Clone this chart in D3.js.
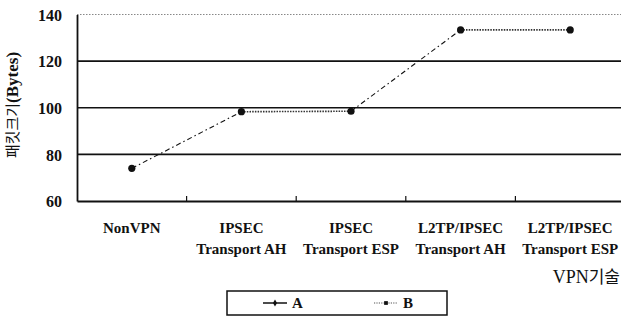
<!DOCTYPE html>
<html>
<head>
<meta charset="utf-8">
<script src="https://cdn.jsdelivr.net/npm/d3@7"></script>
<style>
  body { margin: 0; background: #fff; }
  svg { display: block; }
  .serif { font-family: 'Liberation Serif', Tinos, 'DejaVu Serif', serif; }
  .kr { font-family: 'Noto Sans CJK KR', sans-serif; }
</style>
</head>
<body>
<div id="chart"></div>
<script>
const categories = ['NonVPN', 'IPSEC AH', 'IPSEC ESP', 'L2TP AH', 'L2TP ESP'];
const labelLine1 = ['NonVPN', 'IPSEC', 'IPSEC', 'L2TP/IPSEC', 'L2TP/IPSEC'];
const labelLine2 = ['', 'Transport AH', 'Transport ESP', 'Transport AH', 'Transport ESP'];
const packetSize = [74, 98.3, 98.5, 133.4, 133.4];
// which series style draws the segment from point i to point i+1
const segmentSeries = ['A', 'B', 'A', 'B'];
const seriesNames = ['A', 'B'];
const yTicks = [60, 80, 100, 120, 140];

const width = 621, height = 316;
const margin = {top: 14.5, right: -4, bottom: 115, left: 77};

const svg = d3.select('#chart').append('svg')
  .attr('width', width)
  .attr('height', height);

const x = d3.scaleBand()
  .domain(categories)
  .range([margin.left, width - margin.right]);

const y = d3.scaleLinear()
  .domain([60, 140])
  .range([height - margin.bottom, margin.top]);

// gridlines
svg.append('g')
  .selectAll('line')
  .data(yTicks.filter(v => v > 60))
  .join('line')
  .attr('x1', margin.left)
  .attr('x2', width)
  .attr('y1', d => y(d))
  .attr('y2', d => y(d))
  .attr('stroke', d => d === 140 ? '#888' : '#111')
  .attr('stroke-width', d => d === 140 ? 1 : 1.6)
  .attr('stroke-dasharray', d => d === 140 ? '1.5,1.5' : null);

// y axis
const yAxis = svg.append('g')
  .attr('transform', `translate(${margin.left},0)`)
  .call(d3.axisLeft(y).tickValues(yTicks).tickSize(0).tickPadding(15))
  .attr('font-family', null)
  .attr('class', 'serif')
  .attr('font-size', 16)
  .attr('font-weight', 'bold');
yAxis.select('.domain').attr('stroke', '#111').attr('stroke-width', 1.8);
yAxis.selectAll('.tick text').attr('fill', '#111').attr('dy', '0.36em');

// x axis
const xAxis = svg.append('g')
  .attr('transform', `translate(0,${y(60)})`)
  .call(d3.axisBottom(x).tickSize(0).tickFormat(''));
xAxis.select('.domain').attr('stroke', '#111').attr('stroke-width', 1.8);
svg.append('g')
  .selectAll('line')
  .data(categories.slice(1))
  .join('line')
  .attr('x1', d => x(d))
  .attr('x2', d => x(d))
  .attr('y1', y(60))
  .attr('y2', y(60) - 5)
  .attr('stroke', '#111')
  .attr('stroke-width', 1.2);

// category labels
const labels = svg.append('g')
  .attr('class', 'serif')
  .attr('font-size', 15)
  .attr('font-weight', 'bold')
  .attr('text-anchor', 'middle')
  .attr('fill', '#111');
labels.selectAll('text.l1')
  .data(categories)
  .join('text')
  .attr('class', 'l1')
  .attr('x', d => x(d) + x.bandwidth() / 2)
  .attr('y', 233)
  .text((d, i) => labelLine1[i]);
labels.selectAll('text.l2')
  .data(categories)
  .join('text')
  .attr('class', 'l2')
  .attr('x', d => x(d) + x.bandwidth() / 2)
  .attr('y', 254)
  .text((d, i) => labelLine2[i]);

// axis titles
svg.append('text')
  .attr('x', 620)
  .attr('y', 283)
  .attr('text-anchor', 'end')
  .attr('font-size', 18)
  .attr('fill', '#111')
  .call(t => t.append('tspan').attr('class', 'serif').text('VPN'))
  .call(t => t.append('tspan').attr('class', 'kr').attr('font-size', 17).text('기술'));

svg.append('text')
  .attr('transform', `translate(18,105) rotate(-90)`)
  .attr('text-anchor', 'middle')
  .attr('font-size', 15)
  .attr('fill', '#111')
  .call(t => t.append('tspan').attr('class', 'kr').text('패킷크기'))
  .call(t => t.append('tspan').attr('class', 'serif').attr('font-weight', 'bold').attr('font-size', 17).text('(Bytes)'));

// line styles per series
const lineStyle = {
  A: {dash: '5,3,1.5,3', color: '#111', width: 1.1},
  B: {dash: '1.5,1.2', color: '#333', width: 1.6}
};

const cx = i => x(categories[i]) + x.bandwidth() / 2;

svg.append('g')
  .selectAll('line')
  .data(segmentSeries)
  .join('line')
  .attr('x1', (d, i) => cx(i))
  .attr('y1', (d, i) => y(packetSize[i]))
  .attr('x2', (d, i) => cx(i + 1))
  .attr('y2', (d, i) => y(packetSize[i + 1]))
  .attr('stroke', d => lineStyle[d].color)
  .attr('stroke-width', d => lineStyle[d].width)
  .attr('stroke-dasharray', d => lineStyle[d].dash);

svg.append('g')
  .selectAll('circle')
  .data(packetSize)
  .join('circle')
  .attr('cx', (d, i) => cx(i))
  .attr('cy', d => y(d))
  .attr('r', 3.6)
  .attr('fill', '#111');

// legend
const legend = svg.append('g');
legend.append('rect')
  .attr('x', 227)
  .attr('y', 291)
  .attr('width', 220)
  .attr('height', 24)
  .attr('fill', 'none')
  .attr('stroke', '#111')
  .attr('stroke-width', 1.5);

const legendX = d3.scalePoint().domain(seriesNames).range([263, 374]);
const item = legend.selectAll('g.item')
  .data(seriesNames)
  .join('g')
  .attr('class', 'item')
  .attr('transform', d => `translate(${legendX(d)},303)`);
item.append('line')
  .attr('x1', 0)
  .attr('x2', 24)
  .attr('stroke', d => d === 'A' ? '#111' : '#555')
  .attr('stroke-width', d => d === 'A' ? 1.5 : 1.2)
  .attr('stroke-dasharray', d => d === 'A' ? null : '1.2,1.2');
item.append('path')
  .attr('transform', 'translate(12,0)')
  .attr('d', d => d3.symbol(d === 'A' ? d3.symbolDiamond : d3.symbolSquare, 14)())
  .attr('fill', '#111');
item.append('text')
  .attr('class', 'serif')
  .attr('x', 29)
  .attr('y', 5)
  .attr('font-weight', 'bold')
  .attr('font-size', 15)
  .attr('fill', '#111')
  .text(d => d);
</script>
</body>
</html>
